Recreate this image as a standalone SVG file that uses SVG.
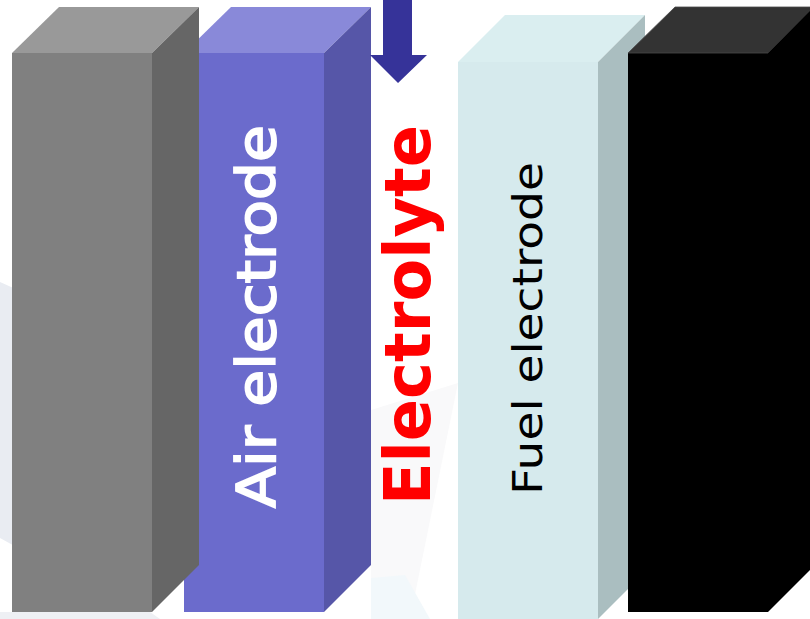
<svg xmlns="http://www.w3.org/2000/svg" width="810" height="619" viewBox="0 0 810 619">
  <defs>
    <style>
      .lbl { font-family: "DejaVu Sans", Verdana, sans-serif; }
    </style>
  </defs>
  <rect width="810" height="619" fill="#ffffff"/>
  <g id="background">
    <polygon points="0,282 40,300 40,560 0,538" fill="#E9ECF2"/>
    <polygon points="0,612 150,612 160,619 0,619" fill="#EEF0F4"/>
    <polygon points="371,410 458,383 410,619 371,619" fill="#F9F9FA"/>
    <polygon points="371,578 405,575 430,619 371,619" fill="#F2F8FB"/>
  </g>
  <g id="purple-block">
    <rect x="184" y="53" width="140" height="559" fill="#6B6BCC"/>
    <polygon points="184,53 231,7 371,7 324,53" fill="#8989D9"/>
    <polygon points="324,53 371,7 371,565 324,612" fill="#5656A8"/>
  </g>
  <g id="gray-block">
    <rect x="12" y="53" width="140" height="559" fill="#808080"/>
    <polygon points="12,53 59,7 199,7 152,53" fill="#999999"/>
    <polygon points="152,53 199,7 199,565 152,612" fill="#666666"/>
  </g>
  <g id="cyan-block">
    <rect x="458" y="62" width="140" height="560" fill="#D6EAED"/>
    <polygon points="458,62 505,15 645,15 598,62" fill="#DAEEF0"/>
    <polygon points="598,62 645,15 645,572 598,619" fill="#AABEC0"/>
  </g>
  <g id="black-block">
    <rect x="628" y="53" width="140" height="559" fill="#000000"/>
    <polygon points="628,53 675,7 815,7 768,53" fill="#333333" stroke="#4a4a4a" stroke-width="0.8"/>
    <polygon points="768,53 815,6 815,565 768,612" fill="#000000"/>
  </g>
  <g id="arrow">
    <polygon points="383,0 412,0 412,55 427,55 398,83 370,55 383,55" fill="#363399"/>
  </g>
  <g id="labels">
    <text class="lbl" transform="translate(275,508) rotate(-90)" font-size="54" fill="#ffffff" stroke="#ffffff" stroke-width="1.8" textLength="383" lengthAdjust="spacingAndGlyphs">Air electrode</text>
    <text class="lbl" transform="translate(430,505) rotate(-90)" font-size="64" font-weight="bold" fill="#FF0000" textLength="380" lengthAdjust="spacingAndGlyphs">Electrolyte</text>
    <text class="lbl" transform="translate(542,495) rotate(-90)" font-size="41" fill="#000000" textLength="333" lengthAdjust="spacingAndGlyphs">Fuel electrode</text>
  </g>
</svg>
